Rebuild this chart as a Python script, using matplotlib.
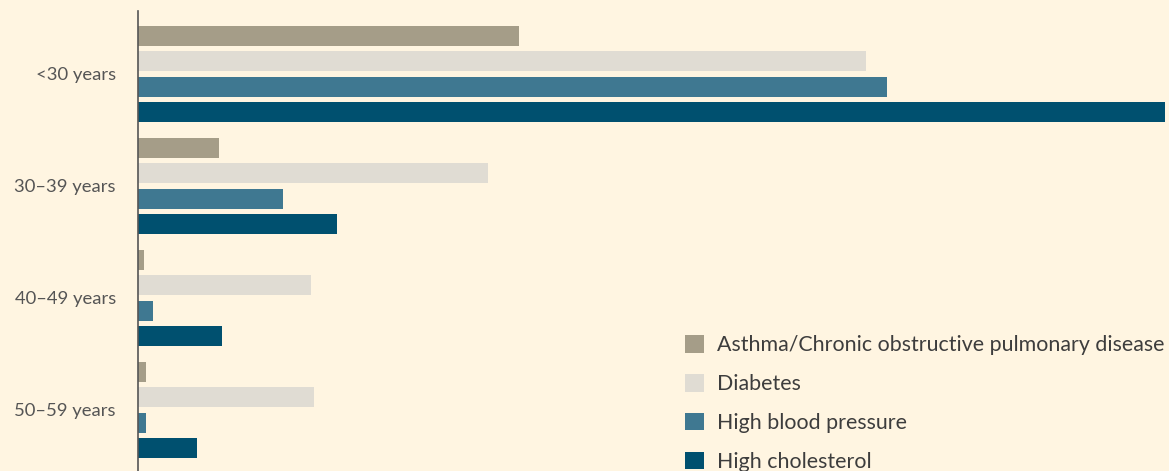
import matplotlib
matplotlib.use("Agg")
import matplotlib.pyplot as plt
from matplotlib.patches import Patch

age_groups = ["<30 years", "30–39 years", "40–49 years", "50–59 years"]
series = ["Asthma/Chronic obstructive pulmonary disease", "Diabetes",
          "High blood pressure", "High cholesterol"]
asthma = [38.1, 8.1, 0.6, 0.8]
diabetes = [72.8, 35.0, 17.3, 17.6]
blood_pressure = [74.9, 14.5, 1.5, 0.8]
cholesterol = [102.7, 19.9, 8.4, 5.9]
values = [asthma, diabetes, blood_pressure, cholesterol]
colors = ["#a59d88", "#e0dcd3", "#3f7891", "#00506f"]

bg = "#fff5e1"
plt.rcParams["font.family"] = ["Lato", "DejaVu Sans"]

fig = plt.figure(figsize=(11.69, 4.71), dpi=100, facecolor=bg)
ax = fig.add_axes([138 / 1169, 0, 1031 / 1169, 460 / 471], facecolor=bg)

pitch = 0.226
height = 0.179
for j, (vals, c) in enumerate(zip(values, colors)):
    ys = [i + j * pitch for i in range(len(age_groups))]
    ax.barh(ys, vals, height=height, color=c, label=series[j])

ax.set_xlim(0, 103.1)
ax.set_ylim(3.884, -0.223)
ax.set_yticks([i + 1.5 * pitch for i in range(len(age_groups))])
ax.set_yticklabels(age_groups, fontsize=13.3, color="#555555")
ax.tick_params(axis="y", length=0, pad=16)
ax.set_xticks([])
for s in ["top", "right", "bottom"]:
    ax.spines[s].set_visible(False)
ax.spines["left"].set_color("#555555")
ax.spines["left"].set_linewidth(1.2)

handles = [Patch(facecolor=c, edgecolor="none") for c in colors]
fig.legend(handles, series, loc="upper left", bbox_to_anchor=(685 / 1169, 1 - 335 / 471),
           frameon=False, fontsize=15.4, handlelength=0.9, handleheight=0.9,
           handletextpad=0.6, labelspacing=0.87, labelcolor="#3d3d3d",
           borderaxespad=0, borderpad=0)

fig.savefig("out.png", dpi=100, facecolor=bg)
